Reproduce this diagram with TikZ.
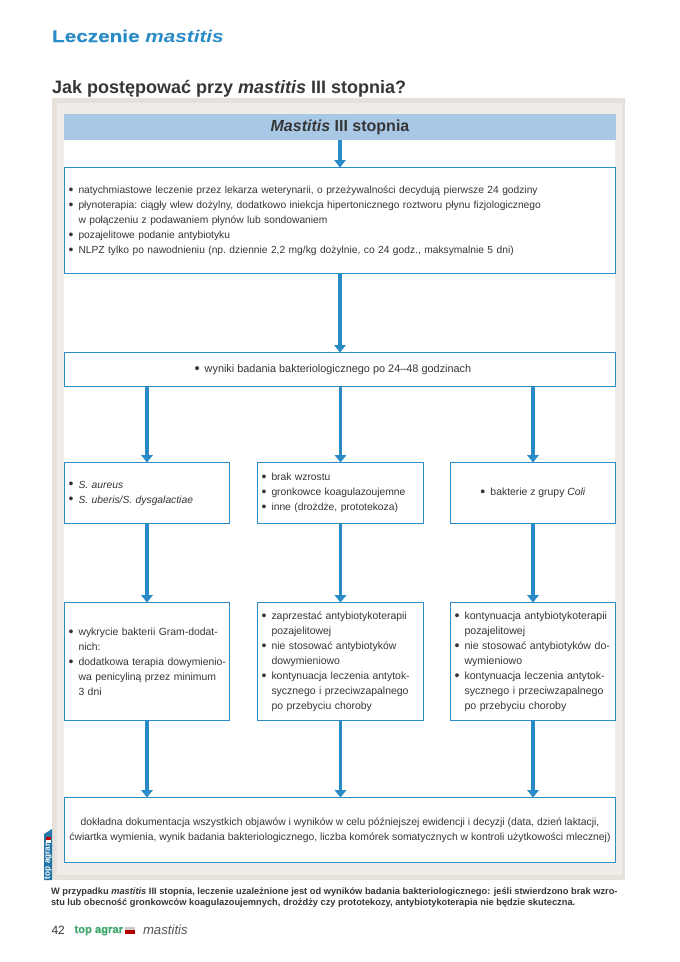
\documentclass[tikz,border=0pt]{standalone}
\usepackage{fontspec}
\setmainfont{Liberation Sans}
\newfontfamily\widefont[FakeStretch=1.22,BoldFeatures={FakeBold=0.6}]{Liberation Sans}
\newfontfamily\heavyfont[BoldFeatures={FakeBold=0.6}]{Liberation Sans}
\usetikzlibrary{arrows.meta}
\definecolor{flowblue}{HTML}{2B8BC6}
\definecolor{headblue}{HTML}{A8C8E6}
\definecolor{panelout}{HTML}{E6E2DB}
\definecolor{panelin}{HTML}{F0EDE8}
\definecolor{ink}{HTML}{363636}
\definecolor{logogreen}{HTML}{3FA66B}
\newcommand{\tx}[1]{\raisebox{-2.4pt}{#1}}
\newcommand{\bl}[1]{\tx{\makebox[10pt][l]{\raisebox{-0.8pt}{\scalebox{1.35}{•}}}#1}}
\newcommand{\cont}[1]{\tx{\hspace*{10pt}#1}}
\newcommand{\bsize}[1]{\fontsize{#1}{15}\selectfont\frenchspacing}
\tikzset{
  x=1pt,y=-1pt,
  every node/.style={text=ink,inner sep=0pt,outer sep=0pt},
  flowbox/.style={draw=flowblue,line width=1.8pt,fill=white,anchor=north west,align=left},
  arr/.style={draw=flowblue,line width=3.2pt,-{Triangle[width=11.5pt,length=7.5pt]}}
}
\begin{document}
\begin{tikzpicture}
\useasboundingbox (0,0) rectangle (680,962);
% panel
\fill[panelout] (52,98) rectangle (625,880);
\fill[panelin] (57,103) rectangle (622,875);
\fill[white] (64,140) rectangle (615,862);
% headings
\node[anchor=base west,text=flowblue,font=\fontsize{17}{20}\widefont\bfseries] (sect) at (52,42) {Leczenie \textit{mastitis}};
\node[anchor=base west,font=\fontsize{18}{22}\selectfont\bfseries] (title) at (52,93) {Jak postępować przy \textit{mastitis} III stopnia?};
% boxes
\node[anchor=north west,fill=headblue,minimum width=552pt,minimum height=26pt,font=\fontsize{16}{20}\selectfont\bfseries] (head) at (64,114) {\raisebox{-1pt}{\textit{Mastitis} III stopnia}};
\node[flowbox,font=\bsize{10.25},minimum width=551pt,minimum height=106pt,text width=543pt] (treat) at (64.5,167.5) {\bl{natychmiastowe leczenie przez lekarza weterynarii, o przeżywalności decydują pierwsze 24 godziny}\\
\bl{płynoterapia: ciągły wlew dożylny, dodatkowo iniekcja hipertonicznego roztworu płynu fizjologicznego}\\
\cont{w połączeniu z podawaniem płynów lub sondowaniem}\\
\bl{pozajelitowe podanie antybiotyku}\\
\bl{NLPZ tylko po nawodnieniu (np. dziennie 2,2 mg/kg dożylnie, co 24 godz., maksymalnie 5 dni)}};
\node[flowbox,font=\bsize{10.9},align=center,minimum width=551pt,minimum height=34pt] (result) at (64.5,352.5) {\bl{wyniki badania bakteriologicznego po 24–48 godzinach}\hspace*{14pt}};
\node[flowbox,font=\bsize{10.3},minimum width=165pt,minimum height=61pt,text width=157pt] (gramA) at (64.5,462.5) {\bl{\textit{S. aureus}}\\\bl{\textit{S. uberis/S. dysgalactiae}}};
\node[flowbox,font=\bsize{10.3},minimum width=166pt,minimum height=61pt,text width=158pt] (gramB) at (257.5,462.5) {\bl{brak wzrostu}\\\bl{gronkowce koagulazoujemne}\\\bl{inne (drożdże, prototekoza)}};
\node[flowbox,font=\bsize{10.4},align=center,minimum width=165pt,minimum height=61pt] (gramC) at (450.5,462.5) {\bl{bakterie z grupy \textit{Coli}}};
\node[flowbox,font=\bsize{10.4},minimum width=165pt,minimum height=118pt,text width=157pt] (actA) at (64.5,602.5) {\bl{wykrycie bakterii Gram-dodat-}\\\cont{nich:}\\\bl{dodatkowa terapia dowymienio-}\\\cont{wa penicyliną przez minimum}\\\cont{3 dni}};
\node[flowbox,font=\bsize{10.45},minimum width=166pt,minimum height=118pt,text width=158pt] (actB) at (257.5,602.5) {\bl{zaprzestać antybiotykoterapii}\\\cont{pozajelitowej}\\\bl{nie stosować antybiotyków}\\\cont{dowymieniowo}\\\bl{kontynuacja leczenia antytok-}\\\cont{sycznego i przeciwzapalnego}\\\cont{po przebyciu choroby}};
\node[flowbox,font=\bsize{10.6},minimum width=165pt,minimum height=118pt,text width=157pt] (actC) at (450.5,602.5) {\bl{kontynuacja antybiotykoterapii}\\\cont{pozajelitowej}\\\bl{nie stosować antybiotyków do-}\\\cont{wymieniowo}\\\bl{kontynuacja leczenia antytok-}\\\cont{sycznego i przeciwzapalnego}\\\cont{po przebyciu choroby}};
\node[flowbox,font=\bsize{10.37},align=center,minimum width=551pt,minimum height=65pt] (docs) at (64.5,797.5) {\tx{dokładna dokumentacja wszystkich objawów i wyników w celu późniejszej ewidencji i decyzji (data, dzień laktacji,}\\\tx{ćwiartka wymienia, wynik badania bakteriologicznego, liczba komórek somatycznych w kontroli użytkowości mlecznej)}};
% connectors
\draw[arr] (treat.north |- head.south) -- (treat.north);
\draw[arr] (treat.south) -- (result.north);
\draw[arr] (gramA.north |- result.south) -- (gramA.north);
\draw[arr] (gramB.north |- result.south) -- (gramB.north);
\draw[arr] (gramC.north |- result.south) -- (gramC.north);
\draw[arr] (gramA.south) -- (actA.north);
\draw[arr] (gramB.south) -- (actB.north);
\draw[arr] (gramC.south) -- (actC.north);
\draw[arr] (actA.south) -- (actA.south |- docs.north);
\draw[arr] (actB.south) -- (actB.south |- docs.north);
\draw[arr] (actC.south) -- (actC.south |- docs.north);
% side tab
\fill[flowblue!85!black] (44,834) -- (52,829) -- (52,880) -- (44,880) -- cycle;
\node[rotate=90,anchor=west,text=white,font=\fontsize{8.2}{9}\selectfont\bfseries] (tab) at (48,879) {top agrar};
\fill[red!75!black] (45.5,837) rectangle (50.5,840);
\fill[white] (45.5,840) rectangle (50.5,843);
% footer
\node[anchor=north west,align=left,font=\fontsize{9.28}{11}\selectfont\bfseries] (note) at (51,887.5) {W przypadku \textit{mastitis} III stopnia, leczenie uzależnione jest od wyników badania bakteriologicznego: jeśli stwierdzono brak wzro-\\stu lub obecność gronkowców koagulazoujemnych, drożdży czy prototekozy, antybiotykoterapia nie będzie skuteczna.};
\node[anchor=base west,font=\fontsize{12}{14}\selectfont] (page) at (51.5,934) {42};
\node[anchor=base west,text=logogreen,font=\fontsize{11.2}{12}\heavyfont\bfseries] (logo) at (74.5,933) {top agrar};
\fill[panelin!85!black] (125,927) rectangle (135,930);
\fill[red!70!black] (125,930) rectangle (135,934);
\node[anchor=base west,text=ink!85,font=\fontsize{13.2}{15}\selectfont\itshape] (brand) at (143,934) {mastitis};
\end{tikzpicture}
\end{document}
